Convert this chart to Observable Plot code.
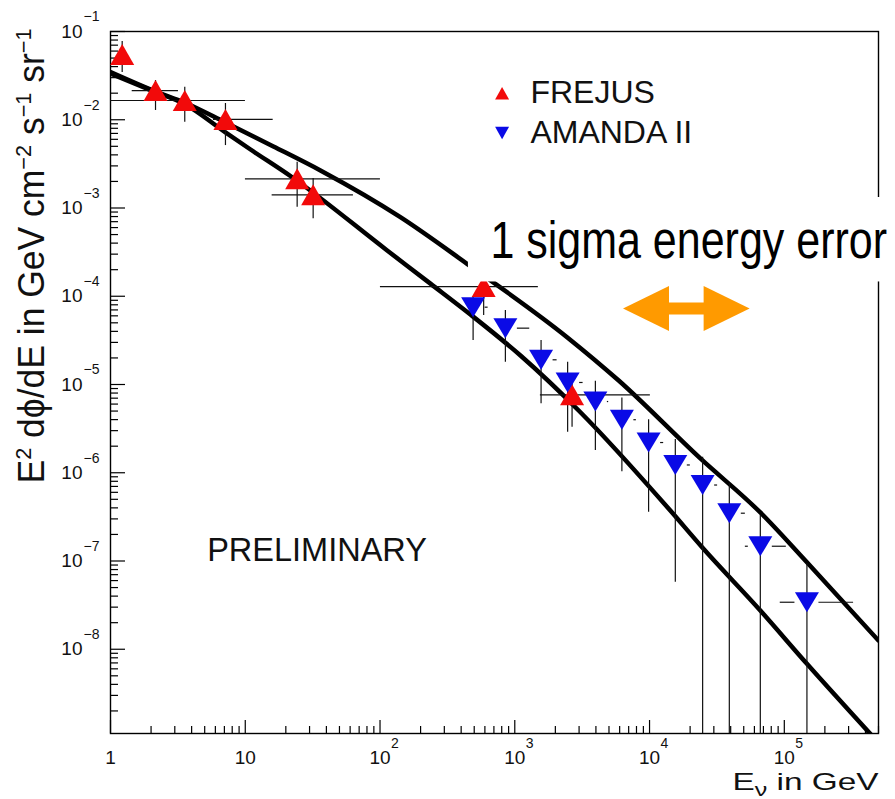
<!DOCTYPE html>
<html><head><meta charset="utf-8">
<script src="https://cdn.jsdelivr.net/npm/d3@7"></script>
<script src="https://cdn.jsdelivr.net/npm/@observablehq/plot@0.6"></script>
<style>html,body{margin:0;padding:0;background:#fff}svg{display:block}</style>
</head><body><div id="chart"></div>
<script>
// ---------- data ----------
// FREJUS (red up triangles)
const frejusE   = [1.221, 2.158, 3.557, 7.129, 24.27, 31.9, 587.5, 2661];
const frejusF   = [0.0548, 0.02143, 0.01652, 0.01008, 0.002143, 0.001412, 1.288e-4, 7.64e-6];
const frejusElo = [1.221, 1.449, 0.5, 5.81, 10.03, 15.83, 100.7, 1549];
const frejusEhi = [1.221, 3.194, 10.03, 16.11, 100.7, 63.5, 1496, 10140];
const frejusFlo = [0.0343, 0.01274, 0.00938, 0.0051, 0.001021, 7.55e-4, 6.05e-5, 3.28e-6];
const frejusFhi = [0.0771, 0.02785, 0.02338, 0.01528, 0.003304, 0.002158, 2.06e-4, 1.17e-5];

// AMANDA II (blue down triangles)
const amandaE   = [490.6, 851.6, 1567, 2467, 3963, 6234, 9840, 15530, 24770, 39080, 66370, 147200];
const amandaF   = [7.52e-5, 4.35e-5, 1.905e-5, 1.054e-5, 6.41e-6, 3.99e-6, 2.20e-6, 1.225e-6, 7.26e-7, 3.48e-7, 1.47e-7, 3.41e-8];
const amandaFhi = [9.93e-5, 6.90e-5, 3.15e-5, 1.79e-5, 1.089e-5, 7.03e-6, 3.98e-6, 2.38e-6, 1.50e-6, 7.50e-7, 3.28e-7, 9.29e-8];
const amandaFlo = [3.15e-5, 1.79e-5, 6.04e-6, 2.88e-6, 1.786e-6, 1.028e-6, 3.57e-7, 5.75e-8, 1e-12, 1e-12, 1e-12, 1e-12];
const amandaEhi = [634, 1291, 2060, 3213, 4975, 7985, 12730, 20080, 31990, 51400, 103500, 326600];
const amandaElo = [null, null, null, null, null, null, null, null, null, null, 51400, 93300];

// Upper band curve
const upperE = [1, 2.158, 3.540, 7.129, 16.18, 36.14, 141.6, 442.6, 2443, 5902, 23820, 66370, 147200, 500000];
const upperF = [0.0347, 0.02089, 0.01567, 0.00931, 0.00498, 0.00266, 7.87e-4, 2.33e-4, 3.44e-5, 1.109e-5, 1.452e-6, 3.55e-7, 9.68e-8, 1.256e-8];
// Lower band curve
const lowerE = [1, 2.158, 3.540, 7.129, 10.94, 22.28, 113.0, 236.6, 468.8, 1102, 3069, 14260, 24550, 66370, 147200, 434500];
const lowerF = [0.0334, 0.0206, 0.01507, 0.00718, 0.00460, 0.00223, 3.30e-4, 1.39e-4, 6.21e-5, 2.13e-5, 4.85e-6, 3.73e-7, 1.43e-7, 2.75e-8, 6.84e-9, 1.10e-9];

// Axis ticks
const xMajor = [1, 10, 100, 1000, 10000, 100000];
const yMajor = [1e-8, 1e-7, 1e-6, 1e-5, 1e-4, 1e-3, 1e-2, 1e-1];
const xMinor = d3.range(0, 6).flatMap(k => d3.range(2, 10).map(m => m * 10 ** k)).filter(v => v <= 5e5);
const yMinor = d3.range(-9, -1).flatMap(k => d3.range(2, 10).map(m => m * 10 ** k)).filter(v => v >= 1.11e-9);

// Legend
const legendLabels = ["FREJUS", "AMANDA II"];
const legendMarkE = 805, legendTextE = 1306;
const legendF = [0.0200, 0.0071];

// Annotations
const noteText = "PRELIMINARY";
const noteE = 5.217, noteF = 9.95e-8;
const boxE = [452.9, 2e6], boxF = [1.452e-4, 1.315e-3];
const boxText = "1 sigma energy error";
const boxTextE = 659, boxTextF = 2.68e-4;
const arrowE = [6356, 55300], arrowF = 7.26e-5;
const yTitleKey = "Y_TITLE", xTitleKey = "X_TITLE";

// ---------- build ----------
const frejus = frejusE.map((E, i) => ({E, F: frejusF[i], Elo: frejusElo[i], Ehi: frejusEhi[i], Flo: frejusFlo[i], Fhi: frejusFhi[i]}));
const amanda = amandaE.map((E, i) => ({E, F: amandaF[i], Elo: amandaElo[i], Ehi: amandaEhi[i], Flo: amandaFlo[i], Fhi: amandaFhi[i]}));
const upper = upperE.map((E, i) => ({E, F: upperF[i]}));
const lower = lowerE.map((E, i) => ({E, F: lowerF[i]}));
const legend = legendLabels.map((t, i) => ({t, F: legendF[i]}));

const triUp = (w, h) => ({draw(c) { c.moveTo(0, -h / 2); c.lineTo(w / 2, h / 2); c.lineTo(-w / 2, h / 2); c.closePath(); }});
const triDown = (w, h) => ({draw(c) { c.moveTo(0, h / 2); c.lineTo(w / 2, -h / 2); c.lineTo(-w / 2, -h / 2); c.closePath(); }});
const headLeft = {draw(c) { c.moveTo(0, 0); c.lineTo(46, -22.5); c.lineTo(46, 22.5); c.closePath(); }};
const headRight = {draw(c) { c.moveTo(0, 0); c.lineTo(-46, -22.5); c.lineTo(-46, 22.5); c.closePath(); }};

const RED = "#f20a0a", BLUE = "#0a0ae6", ORANGE = "#ff9a00";
const FONT = "'Liberation Sans', Arial, Helvetica, sans-serif";

const chart = Plot.plot({
  width: 895, height: 799,
  marginLeft: 110, marginRight: 17, marginTop: 31, marginBottom: 66,
  style: {fontFamily: FONT, background: "#fff", color: "#000"},
  x: {type: "log", domain: [1, 5e5]},
  y: {type: "log", domain: [1.11e-9, 0.1]},
  marks: [
    // ticks (inside)
    Plot.axisX(xMinor, {tickSize: -7, tickFormat: () => "", label: null, strokeWidth: 1.2}),
    Plot.axisX(xMajor, {tickSize: -13, tickFormat: () => "", label: null, strokeWidth: 1.2}),
    Plot.axisY(yMinor, {tickSize: -8, tickFormat: () => "", label: null, strokeWidth: 1.2}),
    Plot.axisY(yMajor, {tickSize: -15, tickFormat: () => "", label: null, strokeWidth: 1.2}),
    // tick labels
    Plot.axisX(xMajor, {tickSize: 0, tickPadding: 16.5, fontSize: 19, fill: "#111", tickFormat: d => d < 100 ? String(d) : "10", label: null}),
    Plot.axisX(xMajor.slice(2), {tickSize: 0, tickPadding: 5, fontSize: 14, fill: "#111", textAnchor: "start", dx: 11, tickFormat: d => String(Math.round(Math.log10(d))), label: null}),
    Plot.axisY(yMajor, {tickSize: 0, tickPadding: 28, fontSize: 19, fill: "#111", tickFormat: () => "10", label: null}),
    Plot.axisY(yMajor, {tickSize: 0, tickPadding: 27, fontSize: 14, fill: "#111", textAnchor: "start", dy: -14.5, tickFormat: d => "\u2212" + Math.round(-Math.log10(d)), label: null}),
    Plot.frame({stroke: "#000", strokeWidth: 1.4}),
    // curves
    Plot.line(upper, {x: "E", y: "F", stroke: "#000", strokeWidth: 4.5, curve: "monotone-x", clip: true}),
    Plot.line(lower, {x: "E", y: "F", stroke: "#000", strokeWidth: 4.5, curve: "monotone-x", clip: true}),
    // error bars
    Plot.ruleY(frejus, {y: "F", x1: "Elo", x2: "Ehi", stroke: "#111", strokeWidth: 1.2, clip: true}),
    Plot.ruleX(frejus, {x: "E", y1: "Flo", y2: "Fhi", stroke: "#111", strokeWidth: 1.2, clip: true}),
    Plot.ruleX(amanda, {x: "E", y1: "Flo", y2: "Fhi", stroke: "#111", strokeWidth: 1.2, clip: true}),
    Plot.ruleY(amanda, {y: "F", x1: "E", x2: "Ehi", insetLeft: 12, stroke: "#111", strokeWidth: 1.2, clip: true}),
    Plot.ruleY(amanda.filter(d => d.Elo != null), {y: "F", x1: "Elo", x2: "E", insetRight: 12, stroke: "#111", strokeWidth: 1.2, clip: true}),
    // markers
    Plot.dot(frejus, {x: "E", y: "F", symbol: triUp(24, 21), fill: RED, r: 5}),
    Plot.dot(amanda, {x: "E", y: "F", symbol: triDown(24, 20), fill: BLUE, r: 5}),
    // legend
    Plot.dot(legend.slice(0, 1), {x: () => legendMarkE, y: "F", symbol: triUp(14, 12.5), fill: RED, r: 4}),
    Plot.dot(legend.slice(1), {x: () => legendMarkE, y: "F", symbol: triDown(14, 12.5), fill: BLUE, r: 4}),
    Plot.text(legend, {x: () => legendTextE, y: "F", text: "t", textAnchor: "start", lineAnchor: "middle", fontSize: 32, fill: "#111"}),
    // annotations
    Plot.text([noteText], {x: () => noteE, y: () => noteF, text: d => d, textAnchor: "start", lineAnchor: "bottom", fontSize: 32.5, fill: "#111"}),
    Plot.rect([0], {x1: () => boxE[0], x2: () => boxE[1], y1: () => boxF[0], y2: () => boxF[1], fill: "#fff"}),
    Plot.text([boxText], {x: () => boxTextE, y: () => boxTextF, text: d => d, textAnchor: "start", lineAnchor: "bottom", fontSize: 43, fill: "#000"}),
    Plot.ruleY([arrowF], {y: d => d, x1: () => arrowE[0], x2: () => arrowE[1], stroke: ORANGE, strokeWidth: 12, insetLeft: 40, insetRight: 40}),
    Plot.dot([arrowF], {x: () => arrowE[0], y: d => d, symbol: headLeft, fill: ORANGE, r: 5}),
    Plot.dot([arrowF], {x: () => arrowE[1], y: d => d, symbol: headRight, fill: ORANGE, r: 5}),
    // axis titles
    Plot.text([yTitleKey], {frameAnchor: "left", dx: -67, dy: -126.5, rotate: -90, text: d => d, textAnchor: "middle", lineAnchor: "bottom", fontSize: 36, fill: "#111"}),
    Plot.text([xTitleKey], {frameAnchor: "bottom-right", dy: 56, text: d => d, textAnchor: "end", lineAnchor: "bottom", fontSize: 24, fill: "#111"})
  ]
});
document.getElementById("chart").appendChild(chart);

// ---------- rich text (superscripts / subscripts) ----------
function rich(sel, segs) {
  sel.text(null);
  let cur = 0;
  for (const s of segs) {
    const shift = s.shift || 0;
    const t = sel.append("tspan").attr("dy", (cur - shift) + "px").text(s.t);
    if (s.size) t.attr("font-size", s.size);
    cur = shift;
  }
}
const svg = d3.select(chart);
const byText = s => svg.selectAll("text").filter(function () { return this.textContent === s; });
const yt = byText(yTitleKey);
rich(yt, [
  {t: "E"}, {t: "2", size: 22, shift: 13},
  {t: " d\u03D5/dE in GeV cm"}, {t: "\u22122", size: 22, shift: 13},
  {t: " s"}, {t: "\u22121", size: 22, shift: 13},
  {t: " sr"}, {t: "\u22121", size: 22, shift: 13}
]);
yt.attr("textLength", 455).attr("lengthAdjust", "spacingAndGlyphs");
const xt = byText(xTitleKey);
rich(xt, [{t: "E"}, {t: "\u03BD", size: 18, shift: -6}, {t: " in GeV"}]);
xt.attr("textLength", 146).attr("lengthAdjust", "spacingAndGlyphs");
// tall, narrow look of the boxed note: stretch vertically about its baseline
byText(boxText).each(function () {
  const el = this;
  const tr = el.getAttribute("transform");
  if (tr) {
    el.setAttribute("transform", tr + " scale(1,1.19)");
  } else {
    const x = +el.getAttribute("x") || 0, y = +el.getAttribute("y") || 0;
    el.removeAttribute("x"); el.removeAttribute("y");
    el.setAttribute("transform", `translate(${x},${y}) scale(1,1.19)`);
  }
});
</script>
</body></html>
